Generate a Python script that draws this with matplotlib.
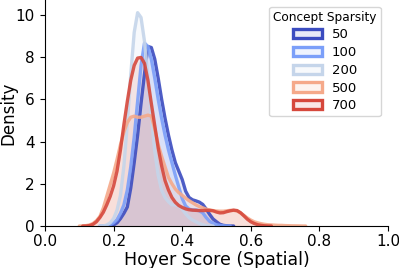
import numpy as np
import matplotlib
matplotlib.use("Agg")
import matplotlib.pyplot as plt
from matplotlib.patches import Patch

x_grid = [round(0.10 + 0.01 * i, 2) for i in range(71)]  # 0.10 .. 0.80

labels = ["50", "100", "200", "500", "700"]
colors = ["#3b4cc0", "#7b9ff9", "#c5d5ea", "#f5a98a", "#d6483c"]

# densities, from x=0.10 in steps of 0.01
# (trailing values not listed are zero)
dens_50 = [0, 0, 0, 0, 0, 0, 0, 0, 0, 0,
           0.05, 0.15, 0.35, 0.6, 0.9, 1.8, 3.0, 4.3, 5.8, 7.2,
           8.5, 8.45, 7.9, 7.0, 6.0, 5.1, 4.3, 3.6, 3.0, 2.6,
           2.2, 1.65, 1.35, 1.24, 1.19, 1.13, 1.02, 0.8, 0.55, 0.33,
           0.2, 0.08, 0.03, 0.01]
dens_100 = [0, 0, 0, 0, 0, 0, 0, 0, 0.02, 0.06,
            0.15, 0.3, 0.6, 1.0, 1.7, 2.8, 4.2, 5.9, 7.6, 8.66,
            8.5, 7.9, 7.0, 6.0, 5.1, 4.3, 3.6, 3.0, 2.4, 1.85,
            1.3, 0.95, 0.8, 0.76, 0.76, 0.72, 0.62, 0.4, 0.22, 0.13,
            0.06, 0.03, 0.01]
dens_200 = [0, 0, 0, 0, 0, 0, 0, 0, 0.05, 0.15,
            0.35, 0.75, 1.45, 2.84, 4.85, 7.16, 9.16, 10.1, 9.87, 8.75,
            7.09, 5.24, 3.53, 2.4, 1.7, 1.35, 1.15, 1.0, 1.0, 0.95,
            0.8, 0.58, 0.4, 0.28, 0.2, 0.12, 0.06, 0.02]
dens_500 = [0, 0, 0.02, 0.05, 0.12, 0.25, 0.45, 0.85, 1.4, 1.95,
            2.5, 3.15, 3.85, 4.45, 4.9, 5.15, 5.2, 5.15, 5.15, 5.2,
            5.25, 5.2, 4.6, 3.85, 3.3, 2.8, 2.3, 2.0, 1.75, 1.58,
            1.45, 1.32, 1.2, 1.1, 1.0, 0.92, 0.86, 0.8, 0.76, 0.73,
            0.71, 0.7, 0.7, 0.72, 0.74, 0.74, 0.71, 0.62, 0.5, 0.38,
            0.28, 0.2, 0.15, 0.11, 0.08, 0.06, 0.05, 0.04, 0.03, 0.03,
            0.02, 0.015, 0.01, 0.008, 0.005]
dens_700 = [0, 0, 0, 0.02, 0.08, 0.2, 0.4, 0.65, 1.0, 1.4,
            1.9, 2.6, 3.6, 4.8, 5.9, 6.9, 7.6, 7.95, 7.98, 7.7,
            6.9, 5.8, 4.75, 3.7, 2.85, 2.15, 1.7, 1.35, 1.12, 0.97,
            0.88, 0.81, 0.77, 0.75, 0.74, 0.73, 0.73, 0.74, 0.74, 0.72,
            0.66, 0.62, 0.63, 0.68, 0.72, 0.75, 0.73, 0.63, 0.48, 0.32,
            0.2, 0.12, 0.06, 0.03, 0.01]

series = [dens_50, dens_100, dens_200, dens_500, dens_700]

fig = plt.figure(figsize=(3.99, 2.68), dpi=100)
ax = fig.add_axes([45/399, 42/268, 343/399, 226/268])

xs = np.array(x_grid)
for lab, col, d in zip(labels, colors, series):
    d = np.array(list(d) + [0] * (len(x_grid) - len(d)), dtype=float)
    nz = np.nonzero(d)[0]
    lo, hi = max(nz[0] - 2, 0), min(nz[-1] + 3, len(d))
    ax.fill_between(xs[lo:hi], 0, d[lo:hi], color=col, alpha=0.12, lw=0)
    ax.plot(xs[lo:hi], d[lo:hi], color=col, lw=2.4, alpha=0.9,
            solid_capstyle="round")

ax.set_xlim(0, 1.0)
ax.set_ylim(0, 10.7)
ax.set_xticks([0.0, 0.2, 0.4, 0.6, 0.8, 1.0])
ax.set_yticks([0, 2, 4, 6, 8, 10])
ax.tick_params(labelsize=11, length=3.5)
ax.tick_params(axis="x", pad=2.5)
ax.tick_params(axis="y", pad=4)
ax.set_xlabel("Hoyer Score (Spatial)", fontsize=12.5, labelpad=1)
ax.set_ylabel("Density", fontsize=12)
ax.yaxis.set_label_coords(-0.081, 0.5)
for s in ["top", "right"]:
    ax.spines[s].set_visible(False)

handles = [Patch(facecolor=matplotlib.colors.to_rgba(c, 0.12), edgecolor=c, lw=2.4,
                 label=l) for c, l in zip(colors, labels)]
leg = ax.legend(handles=handles, title="Concept Sparsity", loc="upper right",
                fontsize=9.5, title_fontsize=8.7, frameon=True,
                bbox_to_anchor=(0.998, 1.0), handlelength=2.2, borderpad=0.3,
                labelspacing=0.36, handletextpad=0.7)

fig.savefig("out.png", dpi=100)
